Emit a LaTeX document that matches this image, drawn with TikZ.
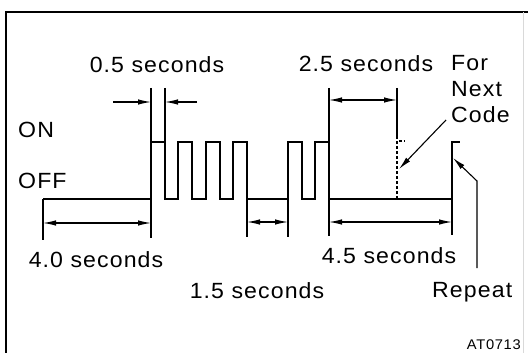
\documentclass[tikz,border=0pt]{standalone}
\usepackage{fontspec}
\setmainfont{Liberation Sans}[FakeStretch=1.05,LetterSpace=5]
\usetikzlibrary{arrows.meta}
\tikzset{
  sig/.style={line width=1.6pt},
  ext/.style={line width=1.1pt},
  dimline/.style={line width=1.1pt,{Latex[length=13pt,width=5.5pt]}-{Latex[length=13pt,width=5.5pt]}},
  pointer/.style={line width=1.1pt,-{Latex[length=13pt,width=5.5pt]}},
  lbl/.style={inner sep=0pt,font=\fontsize{22}{26.5}\selectfont},
}
\begin{document}
\begin{tikzpicture}[x=1pt,y=-1pt]
  \useasboundingbox (0,0) rectangle (528,353);
  % frame
  \draw[line width=2pt] (6,353) -- (6,12) -- (528,12);
  \draw[line width=0.6pt,black!15] (523,12) -- (523,353);
  % edge points of the code
  \coordinate (s0) at (43,199);
  \coordinate (r1) at (151,199);
  \coordinate (f4) at (247,199);
  \coordinate (r5) at (288,199);
  \coordinate (f6) at (329,199);
  \coordinate (nx) at (397,199);
  \coordinate (rp) at (452,199);
  % the code itself
  \draw[sig] (s0) -- (r1) -- (151,142) -- (165,142) -- (165,199) -- (178,199) -- (178,142) -- (192,142)
    -- (192,199) -- (206,199) -- (206,142) -- (220,142) -- (220,199) -- (233,199) -- (233,142)
    -- (247,142) -- (f4) -- (r5) -- (288,142) -- (302,142) -- (302,199) -- (315,199) -- (315,142)
    -- (329,142) -- (f6) -- (rp) -- (452,142) -- (460,142);
  \draw[sig,dashed,dash pattern=on 3pt off 2pt] (nx) -- (397,141) -- (405,141);
  % extension lines
  \draw[ext] (s0) -- (43,240);
  \draw[ext] (151,88) -- (151,238);
  \draw[ext] (165,88) -- (165,142);
  \draw[ext] (f4) -- (247,237);
  \draw[ext] (r5) -- (288,237);
  \draw[ext] (329,88) -- (329,236);
  \draw[ext] (397,88) -- (397,139);
  \draw[ext] (rp) -- (452,235);
  % dimensions
  \coordinate (h05a) at (113,102); \coordinate (h05b) at (151,102);
  \coordinate (h05c) at (197,102); \coordinate (h05d) at (165,102);
  \draw[pointer] (h05a) -- (h05b);
  \draw[pointer] (h05c) -- (h05d);
  \coordinate (h25a) at (329,100); \coordinate (h25b) at (397,100);
  \draw[dimline] (h25a) -- (h25b);
  \coordinate (h40a) at (43,223); \coordinate (h40b) at (151,223);
  \draw[dimline] (h40a) -- (h40b);
  \coordinate (h15a) at (247,222); \coordinate (h15b) at (288,222);
  \draw[dimline] (h15a) -- (h15b);
  \coordinate (h45a) at (329,222); \coordinate (h45b) at (452,222);
  \draw[dimline] (h45a) -- (h45b);
  % labels
  \node[lbl,anchor=base] (t05) at (157,73) {0.5 seconds};
  \node[lbl,anchor=base] (t25) at (366,72) {2.5 seconds};
  \node[lbl,anchor=base west] (ton) at (18,137) {ON};
  \node[lbl,anchor=base west] (toff) at (18,188) {OFF};
  \node[lbl,anchor=base] (t40) at (96,267) {4.0 seconds};
  \node[lbl,anchor=base] (t15) at (257,298) {1.5 seconds};
  \node[lbl,anchor=base] (t45) at (389,263) {4.5 seconds};
  \node[lbl,anchor=base west,align=left] (tnext) at (451,123) {For\\Next\\Code};
  \node[lbl,anchor=base west] (trep) at (432,297) {Repeat};
  \node[inner sep=0pt,anchor=base east,font=\fontsize{14}{16}\selectfont] (tid) at (521,349) {AT0713};
  % leaders
  \coordinate (nxs) at (446,120); \coordinate (nxe) at (399,169);
  \draw[pointer] (nxs) -- (nxe);
  \coordinate (rps) at (477,268); \coordinate (rpe) at (453,158);
  \draw[pointer] (rps) -- (477,181) -- (rpe);
\end{tikzpicture}
\end{document}
